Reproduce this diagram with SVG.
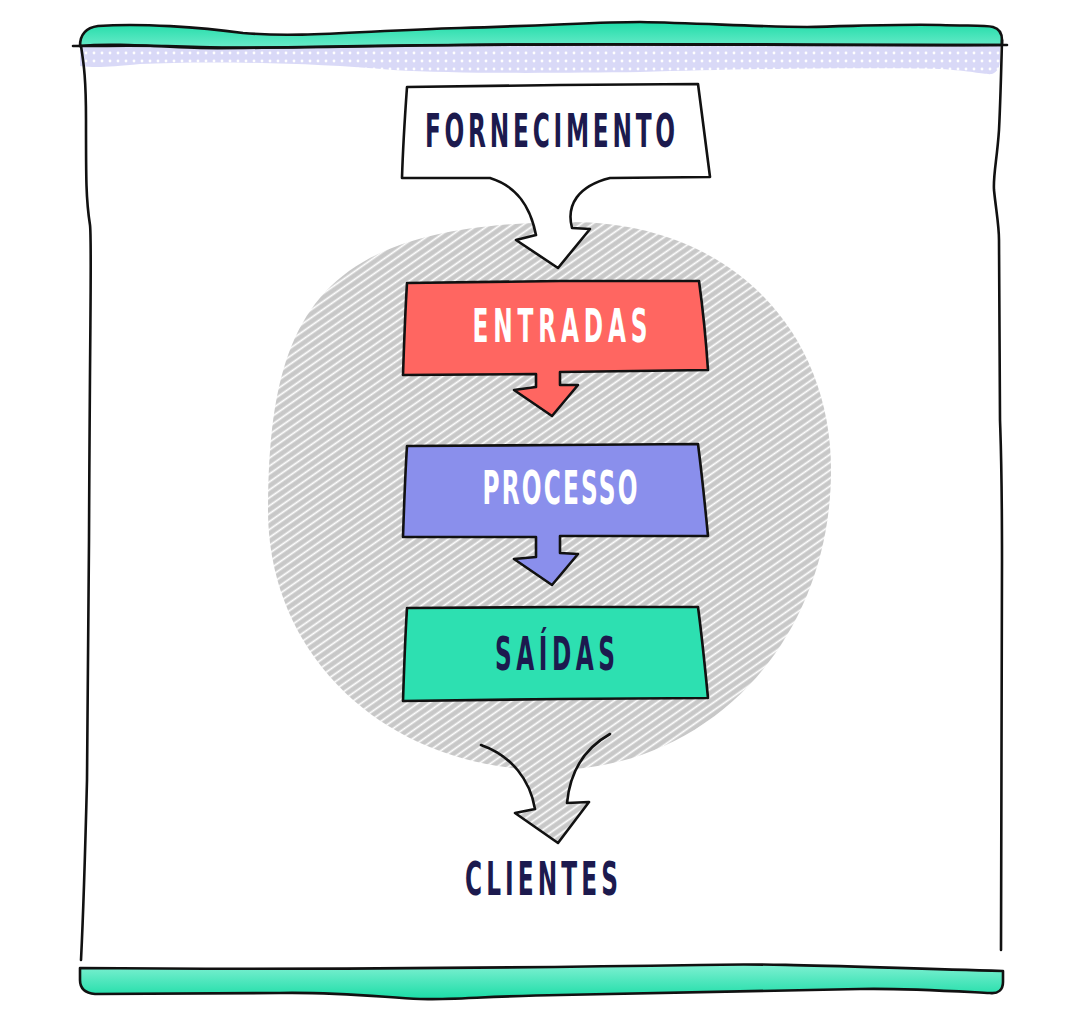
<svg xmlns="http://www.w3.org/2000/svg" width="1080" height="1020" viewBox="0 0 1080 1020">
  <defs>
    <pattern id="hatch" patternUnits="userSpaceOnUse" width="6.5" height="6.5" patternTransform="rotate(-35)">
      <rect width="6.5" height="6.5" fill="#c8c8c8"/>
      <line x1="0" y1="3.25" x2="6.5" y2="3.25" stroke="#ffffff" stroke-width="1.7"/>
    </pattern>
    <pattern id="dots" patternUnits="userSpaceOnUse" x="2" y="1" width="8" height="8">
      <rect width="8" height="8" fill="#d9d9f7"/>
      <circle cx="4" cy="4" r="1.4" fill="#ffffff"/>
    </pattern>
    <linearGradient id="greenTop" x1="0" y1="0" x2="0" y2="1">
      <stop offset="0" stop-color="#1fdca8"/>
      <stop offset="1" stop-color="#6cebca"/>
    </linearGradient>
    <linearGradient id="greenBottom" x1="0" y1="0" x2="0" y2="1">
      <stop offset="0" stop-color="#7ff0d2"/>
      <stop offset="1" stop-color="#1adca6"/>
    </linearGradient>
    <style>
      .ink { stroke: #111111; stroke-width: 2.6; stroke-linejoin: round; stroke-linecap: round; }
      .label { font-family: "DejaVu Sans Condensed", "DejaVu Sans", sans-serif; font-stretch: condensed; font-weight: bold; font-size: 47px; text-anchor: middle; }
      .dark { fill: #1c1a4e; }
      .light { fill: #ffffff; }
    </style>
  </defs>

  <rect width="1080" height="1020" fill="#ffffff"/>

  <!-- page frame: green header strip, dotted band, side rules, green footer strip -->
  <g id="frame">
    <path d="M 80 46 L 80 66 C 95 68, 110 67, 140 64 C 200 61, 300 62, 393 70 C 460 74, 560 73, 640 72 C 740 69, 860 67, 940 69 C 975 71, 985 75, 992 74 C 998 72, 1000 66, 1000 60 L 1000 46 Z" fill="url(#dots)"/>
    <path d="M 80 46 C 80 36, 84 28, 98 26 C 140 23, 200 27, 243 33 C 300 38, 360 31, 460 28 C 560 25, 600 22, 640 22 C 700 23, 760 27, 807 27 C 860 26, 900 24, 940 25 C 970 26, 985 25, 993 27 C 1000 29, 1002 34, 1002 40 L 1002 45 C 800 46, 640 43, 460 45 C 300 46, 250 49, 200 48 C 150 46, 110 43, 80 46 Z" fill="url(#greenTop)" class="ink"/>
    <path d="M 73 46 C 120 46, 150 45, 200 47 C 260 49, 300 47, 460 45 C 640 43, 800 45, 1007 45" fill="none" class="ink" stroke-width="2.2"/>
    <path d="M 81 46 C 84 65, 86 80, 86 120 C 86 180, 86 200, 90 225 C 92 240, 90 300, 89 540 C 88 650, 88 720, 87 780 C 85 860, 83 920, 81 960" fill="none" class="ink"/>
    <path d="M 1002 40 C 1001 80, 1000 110, 999 130 C 997 160, 993 175, 994 190 C 996 210, 999 225, 999 240 L 1000 420 C 1001 450, 1002 470, 1002 560 L 1001 950" fill="none" class="ink"/>
    <path d="M 80 968 C 300 970, 500 968, 700 965 C 780 963, 850 967, 1003 971 L 1003 982 C 1003 990, 998 994, 990 993 C 950 991, 900 988, 860 989 C 800 991, 700 993, 560 995 C 490 996, 450 1000, 420 999 C 380 997, 340 992, 280 993 C 200 994, 130 994, 95 994 C 84 993, 80 988, 80 980 Z" fill="url(#greenBottom)" class="ink"/>
  </g>

  <!-- hatched process area -->
  <g id="blob">
    <path d="M 570 222 C 730 222, 831 330, 831 470 C 831 640, 710 770, 550 770 C 390 770, 268 660, 268 510 C 268 300, 330 224, 570 222 Z" fill="url(#hatch)"/>
  </g>

  <!-- FORNECIMENTO with its curved arrow -->
  <g id="node-fornecimento">
    <path d="M 407 87 L 560 85 L 698 84 C 702 115, 706 145, 710 177 L 610 178 C 578 186, 566 205, 572 228 L 590 229 L 558 268 L 516 240 L 536 235 C 530 205, 516 186, 490 178 L 402 178 C 403 145, 405 115, 407 87 Z" fill="#ffffff" class="ink"/>
    <text class="label dark" transform="translate(550 147) scale(0.55 1)" x="0" y="0" textLength="455" lengthAdjust="spacing">FORNECIMENTO</text>
  </g>

  <!-- ENTRADAS -->
  <g id="node-entradas">
    <path d="M 407 283 L 560 281 L 699 281 C 703 310, 706 340, 708 370 L 560 372 L 560 385 L 578 385 L 552 416 L 514 390 L 536 387 L 536 374 L 403 375 C 404 345, 405 315, 407 283 Z" fill="#ff6661" class="ink"/>
    <text class="label light" transform="translate(560 342) scale(0.55 1)" x="0" y="0" textLength="318" lengthAdjust="spacing">ENTRADAS</text>
  </g>

  <!-- PROCESSO -->
  <g id="node-processo">
    <path d="M 407 446 L 560 445 L 698 444 C 702 475, 705 505, 708 536 L 560 536 L 560 553 L 578 554 L 552 585 L 514 559 L 536 557 L 536 537 L 403 537 C 404 507, 405 477, 407 446 Z" fill="#8a8fec" class="ink"/>
    <text class="label light" transform="translate(560 504) scale(0.55 1)" x="0" y="0" textLength="282" lengthAdjust="spacing">PROCESSO</text>
  </g>

  <!-- SAÍDAS -->
  <g id="node-saidas">
    <path d="M 407 608 L 560 607 L 698 607 C 702 637, 705 667, 708 698 L 560 699 L 403 701 C 404 670, 405 640, 407 608 Z" fill="#2de0b1" class="ink"/>
    <text class="label dark" transform="translate(555 670) scale(0.55 1)" x="0" y="0" textLength="218" lengthAdjust="spacing">SAÍDAS</text>
  </g>

  <!-- CLIENTES -->
  <g id="node-clientes">
    <text class="label dark" transform="translate(541.5 895) scale(0.55 1)" x="0" y="0" textLength="278" lengthAdjust="spacing">CLIENTES</text>
  </g>

  <!-- connector from SAÍDAS to CLIENTES -->
  <g id="connectors">
    <path d="M 481 745 C 512 756, 530 780, 535 809 L 515 813 L 558 843 L 589 802 L 567 803 C 570 772, 585 748, 610 734" fill="url(#hatch)" class="ink"/>
  </g>
</svg>
